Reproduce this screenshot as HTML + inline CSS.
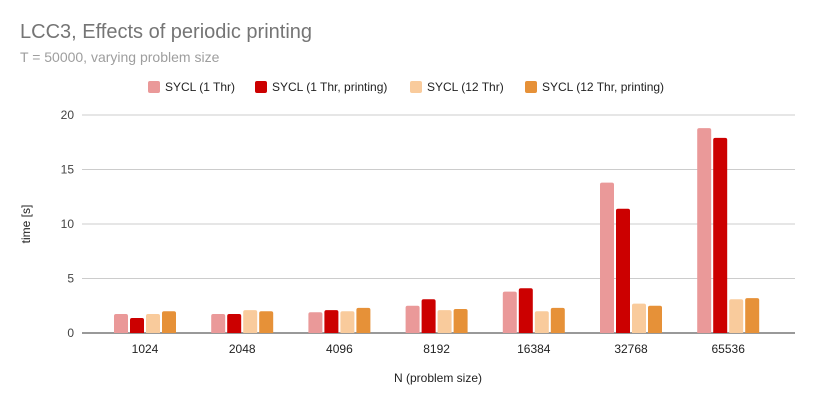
<!DOCTYPE html>
<html><head><meta charset="utf-8"><style>
body{margin:0;background:#fff;font-family:"Liberation Sans",sans-serif}
svg{display:block}
</style></head><body>
<svg width="814" height="406" viewBox="0 0 814 406" id="c">
<rect width="814" height="406" fill="#fff"/>
<text x="20" y="38" font-size="20" fill="#757575">LCC3, Effects of periodic printing</text>
<text x="20" y="62" font-size="14" fill="#9e9e9e">T = 50000, varying problem size</text>
<g id="legend"></g>
<g id="grid"></g>
<g id="bars"></g>
<text x="30" y="224" font-size="12" fill="#222" transform="rotate(-90 30 224)" text-anchor="middle">time [s]</text>
<text x="438" y="382" font-size="12" fill="#222" text-anchor="middle">N (problem size)</text>
</svg>
<script>
const categories=["1024","2048","4096","8192","16384","32768","65536"];
const seriesNames=["SYCL (1 Thr)","SYCL (1 Thr, printing)","SYCL (12 Thr)","SYCL (12 Thr, printing)"];
const s1=[1.74,1.74,1.9,2.5,3.8,13.8,18.8];
const s2=[1.38,1.74,2.1,3.1,4.1,11.4,17.9];
const s3=[1.74,2.1,2.0,2.1,2.0,2.7,3.1];
const s4=[2.0,2.0,2.3,2.2,2.3,2.5,3.2];
const yTicks=[0,5,10,15,20];
const colors=["#ea9999","#cc0000","#f9cb9c","#e69138"];
const NS="http://www.w3.org/2000/svg";
const x0=82,x1=795,y0=333,yTop=115;
const y=v=>y0-(v/20)*(y0-yTop);
const gw=97.2;
const xc=i=>145+gw*i;
function mk(t,a,p){const e=document.createElementNS(NS,t);for(const k in a)e.setAttribute(k,a[k]);p.appendChild(e);return e;}
const grid=document.getElementById('grid');
yTicks.forEach(t=>{
 const l=mk('line',{x1:x0,x2:x1,y1:y(t),y2:y(t),stroke:t===0?'#333':'#ccc','stroke-width':1},grid);
 
 
 const tx=mk('text',{x:74,y:y(t)+4,'font-size':12,fill:'#444','text-anchor':'end'},grid);
 tx.textContent=t;
 
 
});
const bars=document.getElementById('bars');
const series=[s1,s2,s3,s4];
categories.forEach((c,i)=>{
 series.forEach((s,j)=>{
  const bx=xc(i)-31+j*16, top=y(s[i]);
  const r=mk('path',{d:`M${bx},${y0} V${top+2} Q${bx},${top} ${bx+2},${top} H${bx+12} Q${bx+14},${top} ${bx+14},${top+2} V${y0} Z`,fill:colors[j]},bars);
  
  
 });
 const t=mk('text',{x:xc(i),y:353,'font-size':12,fill:'#222','text-anchor':'middle'},bars);
 t.textContent=c;
 
 
});
const lg=document.getElementById('legend');
const lx=[148,255,410,525];
seriesNames.forEach((n,j)=>{
 const r=mk('rect',{x:lx[j],y:81,width:12,height:12,rx:2,fill:colors[j]},lg);
 
 
 const t=mk('text',{x:lx[j]+17,y:91,'font-size':12,fill:'#222'},lg);
 t.textContent=n;
 
 
});
</script>
</body></html>
